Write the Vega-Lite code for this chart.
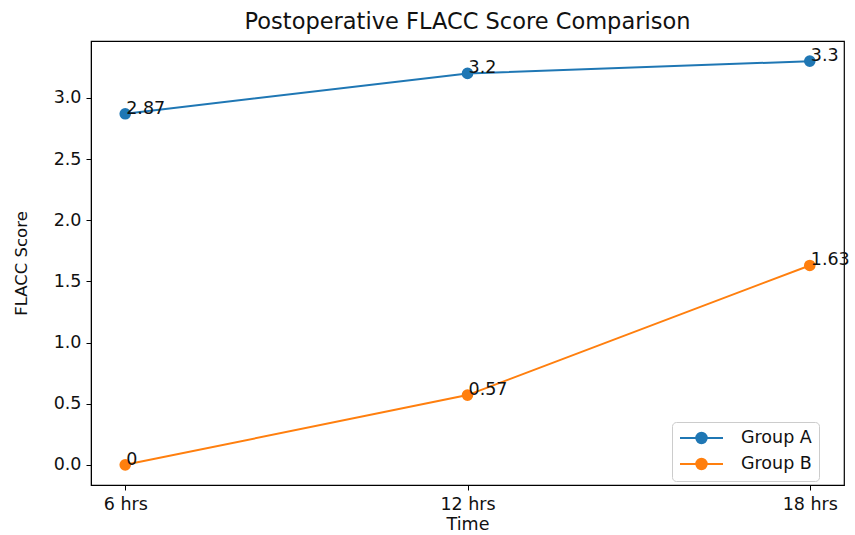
{
  "$schema": "https://vega.github.io/schema/vega-lite/v6.json",
  "autosize": {"type": "none"},
  "padding": {"left": 91, "top": 41, "right": 11, "bottom": 50},
  "width": 753,
  "height": 444,
  "background": "white",
  "config": {
    "font": "DejaVu Sans",
    "view": {"stroke": "black", "strokeWidth": 1.2},
    "axis": {
      "grid": false,
      "domainColor": "black",
      "tickColor": "black",
      "tickSize": 5,
      "labelColor": "#111",
      "titleColor": "#111",
      "labelFontSize": 17.5,
      "titleFontSize": 17.5,
      "titleFontWeight": "normal",
      "labelFont": "DejaVu Sans",
      "titleFont": "DejaVu Sans"
    },
    "legend": {"labelFont": "DejaVu Sans"}
  },
  "title": {
    "text": "Postoperative FLACC Score Comparison",
    "fontSize": 22.5,
    "fontWeight": "normal",
    "color": "#111",
    "anchor": "middle",
    "offset": 8,
    "font": "DejaVu Sans"
  },
  "data": {
    "values": [
      {"time": "6 hrs", "group": "Group A", "score": 2.87},
      {"time": "12 hrs", "group": "Group A", "score": 3.2},
      {"time": "18 hrs", "group": "Group A", "score": 3.3},
      {"time": "6 hrs", "group": "Group B", "score": 0},
      {"time": "12 hrs", "group": "Group B", "score": 0.57},
      {"time": "18 hrs", "group": "Group B", "score": 1.63}
    ]
  },
  "encoding": {
    "x": {
      "field": "time",
      "type": "ordinal",
      "sort": ["6 hrs", "12 hrs", "18 hrs"],
      "scale": {"type": "point", "padding": 0.1},
      "title": "Time",
      "axis": {"labelAngle": 0, "labelPadding": 5, "titlePadding": 3}
    },
    "y": {
      "field": "score",
      "type": "quantitative",
      "scale": {"domain": [-0.165, 3.465], "nice": false, "zero": false},
      "title": "FLACC Score",
      "axis": {"values": [0, 0.5, 1, 1.5, 2, 2.5, 3], "format": ".1f", "labelPadding": 5, "titlePadding": 24, "titleFontSize": 16.5}
    },
    "color": {
      "field": "group",
      "type": "nominal",
      "scale": {"domain": ["Group A", "Group B"], "range": ["#1f77b4", "#ff7f0e"]},
      "legend": {
        "title": null,
        "orient": "none",
        "legendX": 581,
        "legendY": 381,
        "direction": "vertical",
        "symbolType": "M-1,0H4.375M2.3375,0A0.65,0.65,0,1,1,1.0375,0A0.65,0.65,0,1,1,2.3375,0Z",
        "symbolSize": 256,
        "symbolStrokeWidth": 2,
        "labelFontSize": 17.5,
        "labelColor": "#111",
        "labelOffset": 44,
        "rowPadding": 6,
        "padding": 7,
        "strokeColor": "#cccccc",
        "cornerRadius": 4,
        "fillColor": "rgba(255,255,255,0.8)",
        "encode": {"symbols": {"update": {"fill": {"scale": "color", "field": "value"}, "stroke": {"scale": "color", "field": "value"}, "opacity": {"value": 1}}}}
      }
    }
  },
  "layer": [
    {"mark": {"type": "line", "strokeWidth": 2}},
    {"mark": {"type": "point", "filled": true, "size": 135, "opacity": 1}},
    {
      "mark": {"type": "text", "align": "left", "baseline": "alphabetic", "fontSize": 17.5, "color": "#111", "dx": 1},
      "encoding": {"text": {"field": "score", "type": "nominal"}, "color": {"value": "#111"}}
    }
  ]
}
